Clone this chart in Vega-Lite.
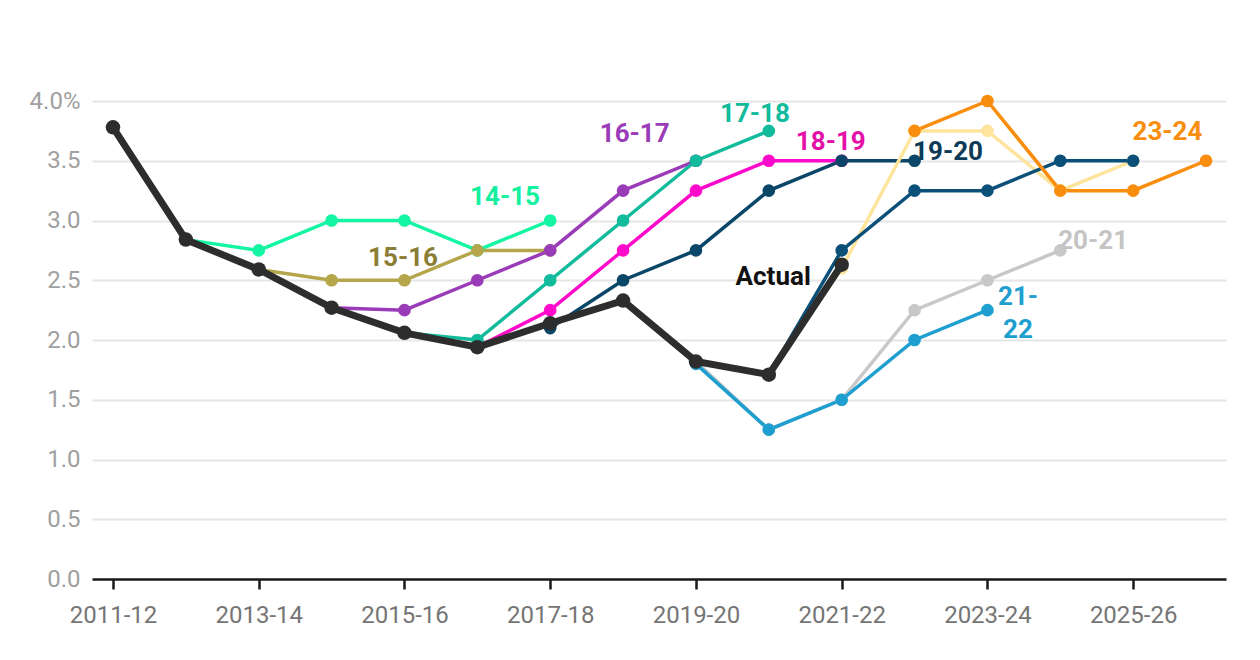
{
  "$schema": "https://vega.github.io/schema/vega-lite/v6.json",
  "width": 1134,
  "height": 478,
  "autosize": {"type": "none"},
  "padding": {"left": 92, "top": 101, "right": 34, "bottom": 81},
  "background": "white",
  "config": {
    "font": "Roboto",
    "view": {"stroke": null}
  },
  "datasets": {
    "forecasts": [
      {"series": "14-15", "year": 2012, "value": 2.84},
      {"series": "14-15", "year": 2013, "value": 2.75},
      {"series": "14-15", "year": 2014, "value": 3.0},
      {"series": "14-15", "year": 2015, "value": 3.0},
      {"series": "14-15", "year": 2016, "value": 2.75},
      {"series": "14-15", "year": 2017, "value": 3.0},
      {"series": "15-16", "year": 2013, "value": 2.59},
      {"series": "15-16", "year": 2014, "value": 2.5},
      {"series": "15-16", "year": 2015, "value": 2.5},
      {"series": "15-16", "year": 2016, "value": 2.75},
      {"series": "15-16", "year": 2017, "value": 2.75},
      {"series": "16-17", "year": 2014, "value": 2.27},
      {"series": "16-17", "year": 2015, "value": 2.25},
      {"series": "16-17", "year": 2016, "value": 2.5},
      {"series": "16-17", "year": 2017, "value": 2.75},
      {"series": "16-17", "year": 2018, "value": 3.25},
      {"series": "16-17", "year": 2019, "value": 3.5},
      {"series": "17-18", "year": 2015, "value": 2.06},
      {"series": "17-18", "year": 2016, "value": 2.0},
      {"series": "17-18", "year": 2017, "value": 2.5},
      {"series": "17-18", "year": 2018, "value": 3.0},
      {"series": "17-18", "year": 2019, "value": 3.5},
      {"series": "17-18", "year": 2020, "value": 3.75},
      {"series": "18-19", "year": 2016, "value": 1.94},
      {"series": "18-19", "year": 2017, "value": 2.25},
      {"series": "18-19", "year": 2018, "value": 2.75},
      {"series": "18-19", "year": 2019, "value": 3.25},
      {"series": "18-19", "year": 2020, "value": 3.5},
      {"series": "18-19", "year": 2021, "value": 3.5},
      {"series": "19-20", "year": 2017, "value": 2.1},
      {"series": "19-20", "year": 2018, "value": 2.5},
      {"series": "19-20", "year": 2019, "value": 2.75},
      {"series": "19-20", "year": 2020, "value": 3.25},
      {"series": "19-20", "year": 2021, "value": 3.5},
      {"series": "19-20", "year": 2022, "value": 3.5},
      {"series": "20-21", "year": 2019, "value": 1.82},
      {"series": "20-21", "year": 2020, "value": 1.25},
      {"series": "20-21", "year": 2021, "value": 1.5},
      {"series": "20-21", "year": 2022, "value": 2.25},
      {"series": "20-21", "year": 2023, "value": 2.5},
      {"series": "20-21", "year": 2024, "value": 2.75},
      {"series": "21-22", "year": 2019, "value": 1.8},
      {"series": "21-22", "year": 2020, "value": 1.25},
      {"series": "21-22", "year": 2021, "value": 1.5},
      {"series": "21-22", "year": 2022, "value": 2.0},
      {"series": "21-22", "year": 2023, "value": 2.25},
      {"series": "22-23", "year": 2020, "value": 1.71},
      {"series": "22-23", "year": 2021, "value": 2.6},
      {"series": "22-23", "year": 2022, "value": 3.75},
      {"series": "22-23", "year": 2023, "value": 3.75},
      {"series": "22-23", "year": 2024, "value": 3.25},
      {"series": "22-23", "year": 2025, "value": 3.5},
      {"series": "22-23 revised", "year": 2020, "value": 1.71},
      {"series": "22-23 revised", "year": 2021, "value": 2.75},
      {"series": "22-23 revised", "year": 2022, "value": 3.25},
      {"series": "22-23 revised", "year": 2023, "value": 3.25},
      {"series": "22-23 revised", "year": 2024, "value": 3.5},
      {"series": "22-23 revised", "year": 2025, "value": 3.5},
      {"series": "23-24", "year": 2022, "value": 3.75},
      {"series": "23-24", "year": 2023, "value": 4.0},
      {"series": "23-24", "year": 2024, "value": 3.25},
      {"series": "23-24", "year": 2025, "value": 3.25},
      {"series": "23-24", "year": 2026, "value": 3.5}
    ],
    "actual": [
      {"year": 2011, "value": 3.78},
      {"year": 2012, "value": 2.84},
      {"year": 2013, "value": 2.59},
      {"year": 2014, "value": 2.27},
      {"year": 2015, "value": 2.06},
      {"year": 2016, "value": 1.94},
      {"year": 2017, "value": 2.14},
      {"year": 2018, "value": 2.33},
      {"year": 2019, "value": 1.82},
      {"year": 2020, "value": 1.71},
      {"year": 2021, "value": 2.63}
    ],
    "labels": [
      {"label": "14-15", "x": 2016.38, "y": 3.2},
      {"label": "15-16", "x": 2014.98, "y": 2.69},
      {"label": "16-17", "x": 2018.16, "y": 3.72},
      {"label": "17-18", "x": 2019.81, "y": 3.89},
      {"label": "18-19", "x": 2020.85, "y": 3.66},
      {"label": "19-20", "x": 2022.46, "y": 3.57},
      {"label": "Actual", "x": 2020.06, "y": 2.53},
      {"label": "20-21", "x": 2024.45, "y": 2.83},
      {"label": "21-\n22", "x": 2023.42, "y": 2.36},
      {"label": "23-24", "x": 2025.47, "y": 3.74}
    ]
  },
  "layer": [
    {
      "data": {"name": "forecasts"},
      "mark": {
        "type": "line",
        "strokeWidth": 3.5,
        "point": {"filled": true, "size": 160, "opacity": 1}
      },
      "encoding": {
        "x": {
          "field": "year",
          "type": "quantitative",
          "scale": {"domain": [2010.712, 2026.274], "nice": false, "zero": false},
          "axis": {
            "title": null,
            "grid": false,
            "values": [2011, 2013, 2015, 2017, 2019, 2021, 2023, 2025],
            "labelExpr": "datum.value + '-' + (datum.value - 1999)",
            "domainColor": "#1a1a1a",
            "domainWidth": 2.5,
            "tickColor": "#1a1a1a",
            "tickWidth": 2.5,
            "tickSize": 10,
            "labelFontSize": 24,
            "labelColor": "#757575",
            "labelPadding": 14,
            "labelFlush": false
          }
        },
        "y": {
          "field": "value",
          "type": "quantitative",
          "scale": {"domain": [0, 4], "nice": false},
          "axis": {
            "title": null,
            "domain": false,
            "ticks": false,
            "values": [0, 0.5, 1, 1.5, 2, 2.5, 3, 3.5, 4],
            "labelExpr": "datum.value == 4 ? '4.0%' : format(datum.value, '.1f')",
            "gridColor": "#e6e6e6",
            "gridWidth": 2,
            "labelFontSize": 24,
            "labelColor": "#a0a0a0",
            "labelPadding": 12
          }
        },
        "color": {
          "field": "series",
          "type": "nominal",
          "legend": null,
          "scale": {
            "domain": ["14-15", "15-16", "16-17", "17-18", "18-19", "19-20", "20-21", "21-22", "22-23", "22-23 revised", "23-24"],
            "range": ["#14f5a3", "#b5a64c", "#9a3cb8", "#12bb9c", "#ff0acb", "#0a4668", "#c8c8c8", "#1f9fcf", "#ffe49d", "#0b5078", "#f98d0e"]
          }
        }
      }
    },
    {
      "data": {"name": "actual"},
      "mark": {
        "type": "line",
        "color": "#2d2d2d",
        "strokeWidth": 7,
        "point": {"filled": true, "size": 210, "color": "#2d2d2d", "opacity": 1}
      },
      "encoding": {
        "x": {"field": "year", "type": "quantitative"},
        "y": {"field": "value", "type": "quantitative"}
      }
    },
    {
      "data": {"name": "labels"},
      "mark": {
        "type": "text",
        "fontSize": 26,
        "fontWeight": "bold",
        "align": "center",
        "baseline": "middle",
        "lineBreak": "\n",
        "lineHeight": 33
      },
      "encoding": {
        "x": {"field": "x", "type": "quantitative"},
        "y": {"field": "y", "type": "quantitative"},
        "text": {"field": "label", "type": "nominal"},
        "color": {
          "field": "label",
          "type": "nominal",
          "legend": null,
          "scale": {
            "domain": ["14-15", "15-16", "16-17", "17-18", "18-19", "19-20", "Actual", "20-21", "21-\n22", "23-24"],
            "range": ["#14f0a0", "#8c7d35", "#9a3cb8", "#12bb9c", "#e410a8", "#0d3b57", "#111111", "#c4c4c4", "#1f9fcf", "#f98d0e"]
          }
        }
      }
    }
  ],
  "resolve": {"scale": {"color": "independent"}}
}
